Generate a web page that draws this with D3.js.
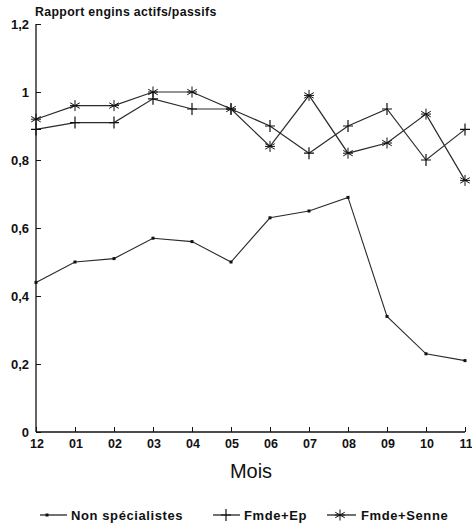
<!DOCTYPE html>
<html>
<head>
<meta charset="utf-8">
<script src="https://cdn.jsdelivr.net/npm/d3@7"></script>
<style>
  body { margin: 0; background: #fff; }
  text { font-family: "Liberation Sans", Arial, sans-serif; fill: #111; }
</style>
</head>
<body>
<svg width="472" height="530"></svg>
<script>
var months = ["12", "01", "02", "03", "04", "05", "06", "07", "08", "09", "10", "11"];
var nonSpec = [0.44, 0.50, 0.51, 0.57, 0.56, 0.50, 0.63, 0.65, 0.69, 0.34, 0.23, 0.21];
var fmdeEp = [0.89, 0.91, 0.91, 0.98, 0.95, 0.95, 0.90, 0.82, 0.90, 0.95, 0.80, 0.89];
var fmdeSenne = [0.92, 0.96, 0.96, 1.00, 1.00, 0.95, 0.84, 0.99, 0.82, 0.85, 0.935, 0.74];
var yTicks = [0, 0.2, 0.4, 0.6, 0.8, 1, 1.2];

var svg = d3.select("svg");
var mLeft = 36, mRight = 465, mTop = 24, mBottom = 432;

var x = d3.scalePoint().domain(months).range([mLeft, mRight]);
var y = d3.scaleLinear().domain([0, 1.2]).range([mBottom, mTop]);

var fmt = function(v) { return String(v).replace(".", ","); };

// y axis, ticks pointing inward
var yAxis = svg.append("g")
  .attr("transform", "translate(" + mLeft + ",0)")
  .call(d3.axisRight(y).tickValues(yTicks).tickSize(5).tickFormat(""));
yAxis.select(".domain").attr("d", "M0," + mTop + "V" + mBottom);
yAxis.selectAll("line").attr("stroke", "#111");
yAxis.select(".domain").attr("stroke", "#111").attr("stroke-width", 1.3);

svg.selectAll(".ylab")
  .data(yTicks)
  .enter().append("text")
  .attr("class", "ylab")
  .attr("x", 29)
  .attr("y", function(d) { return y(d) + 4.5; })
  .attr("text-anchor", "end")
  .attr("font-size", 13)
  .attr("font-weight", "bold")
  .text(function(d) { return d === 0 ? "0" : fmt(d); });

// x axis, ticks pointing up
var xAxis = svg.append("g")
  .attr("transform", "translate(0," + mBottom + ")")
  .call(d3.axisTop(x).tickSize(5).tickFormat(""));
xAxis.select(".domain").attr("d", "M" + mLeft + ",0H" + mRight);
xAxis.selectAll("line").attr("stroke", "#111");
xAxis.select(".domain").attr("stroke", "#111").attr("stroke-width", 1.3);

svg.selectAll(".xlab")
  .data(months)
  .enter().append("text")
  .attr("class", "xlab")
  .attr("x", function(d) { return x(d) + 1; })
  .attr("y", 448)
  .attr("text-anchor", "middle")
  .attr("font-size", 12.5)
  .attr("font-weight", "bold")
  .text(function(d) { return d; });

svg.append("text")
  .attr("x", 251).attr("y", 478)
  .attr("text-anchor", "middle")
  .attr("font-size", 20)
  .text("Mois");

svg.append("text")
  .attr("x", 35).attr("y", 16)
  .attr("font-size", 12.3)
  .attr("font-weight", "bold")
  .attr("letter-spacing", 0.35)
  .text("Rapport engins actifs/passifs");

var line = d3.line()
  .x(function(d, i) { return x(months[i]); })
  .y(function(d) { return y(d); });

function drawDot(g, cx, cy) {
  g.append("rect").attr("x", cx - 1.5).attr("y", cy - 1.5)
    .attr("width", 3).attr("height", 3).attr("fill", "#111");
}
function drawPlus(g, cx, cy) {
  g.append("path")
    .attr("d", "M" + cx + "," + (cy - 6) + "V" + (cy + 6) + "M" + (cx - 5) + "," + cy + "H" + (cx + 5))
    .attr("stroke", "#111").attr("stroke-width", 1.2).attr("fill", "none");
}
function drawStar(g, cx, cy) {
  var r = 5.5, d = "";
  [90, 30, 150].forEach(function(a) {
    var rad = a * Math.PI / 180;
    var dx = r * Math.cos(rad), dy = r * Math.sin(rad);
    d += "M" + (cx - dx) + "," + (cy - dy) + "L" + (cx + dx) + "," + (cy + dy);
  });
  d += "M" + (cx - 5) + "," + cy + "H" + (cx + 5);
  g.append("path").attr("d", d)
    .attr("stroke", "#111").attr("stroke-width", 1).attr("fill", "none");
}

var series = [
  { name: "Non spécialistes", values: nonSpec, mark: drawDot, w: 1.1 },
  { name: "Fmde+Ep", values: fmdeEp, mark: drawPlus, w: 1.2 },
  { name: "Fmde+Senne", values: fmdeSenne, mark: drawStar, w: 1.2 }
];

series.forEach(function(s) {
  var g = svg.append("g");
  g.append("path")
    .datum(s.values)
    .attr("d", line)
    .attr("fill", "none")
    .attr("stroke", "#2a2a2a")
    .attr("stroke-width", s.w);
  s.values.forEach(function(v, i) { s.mark(g, x(months[i]), y(v)); });
});

// legend
var legendItems = [
  { x1: 40, x2: 67, mx: 47, tx: 71 },
  { x1: 213, x2: 240, mx: 226, tx: 244 },
  { x1: 327, x2: 356, mx: 340, tx: 361 }
];
var ly = 515;
series.forEach(function(s, i) {
  var L = legendItems[i];
  var g = svg.append("g");
  g.append("line").attr("x1", L.x1).attr("x2", L.x2).attr("y1", ly).attr("y2", ly)
    .attr("stroke", "#111").attr("stroke-width", 1.2);
  s.mark(g, L.mx, ly);
  g.append("text").attr("x", L.tx).attr("y", ly + 4.5)
    .attr("font-size", 13).attr("font-weight", "bold")
    .attr("letter-spacing", 0.6)
    .text(s.name);
});
</script>
</body>
</html>
